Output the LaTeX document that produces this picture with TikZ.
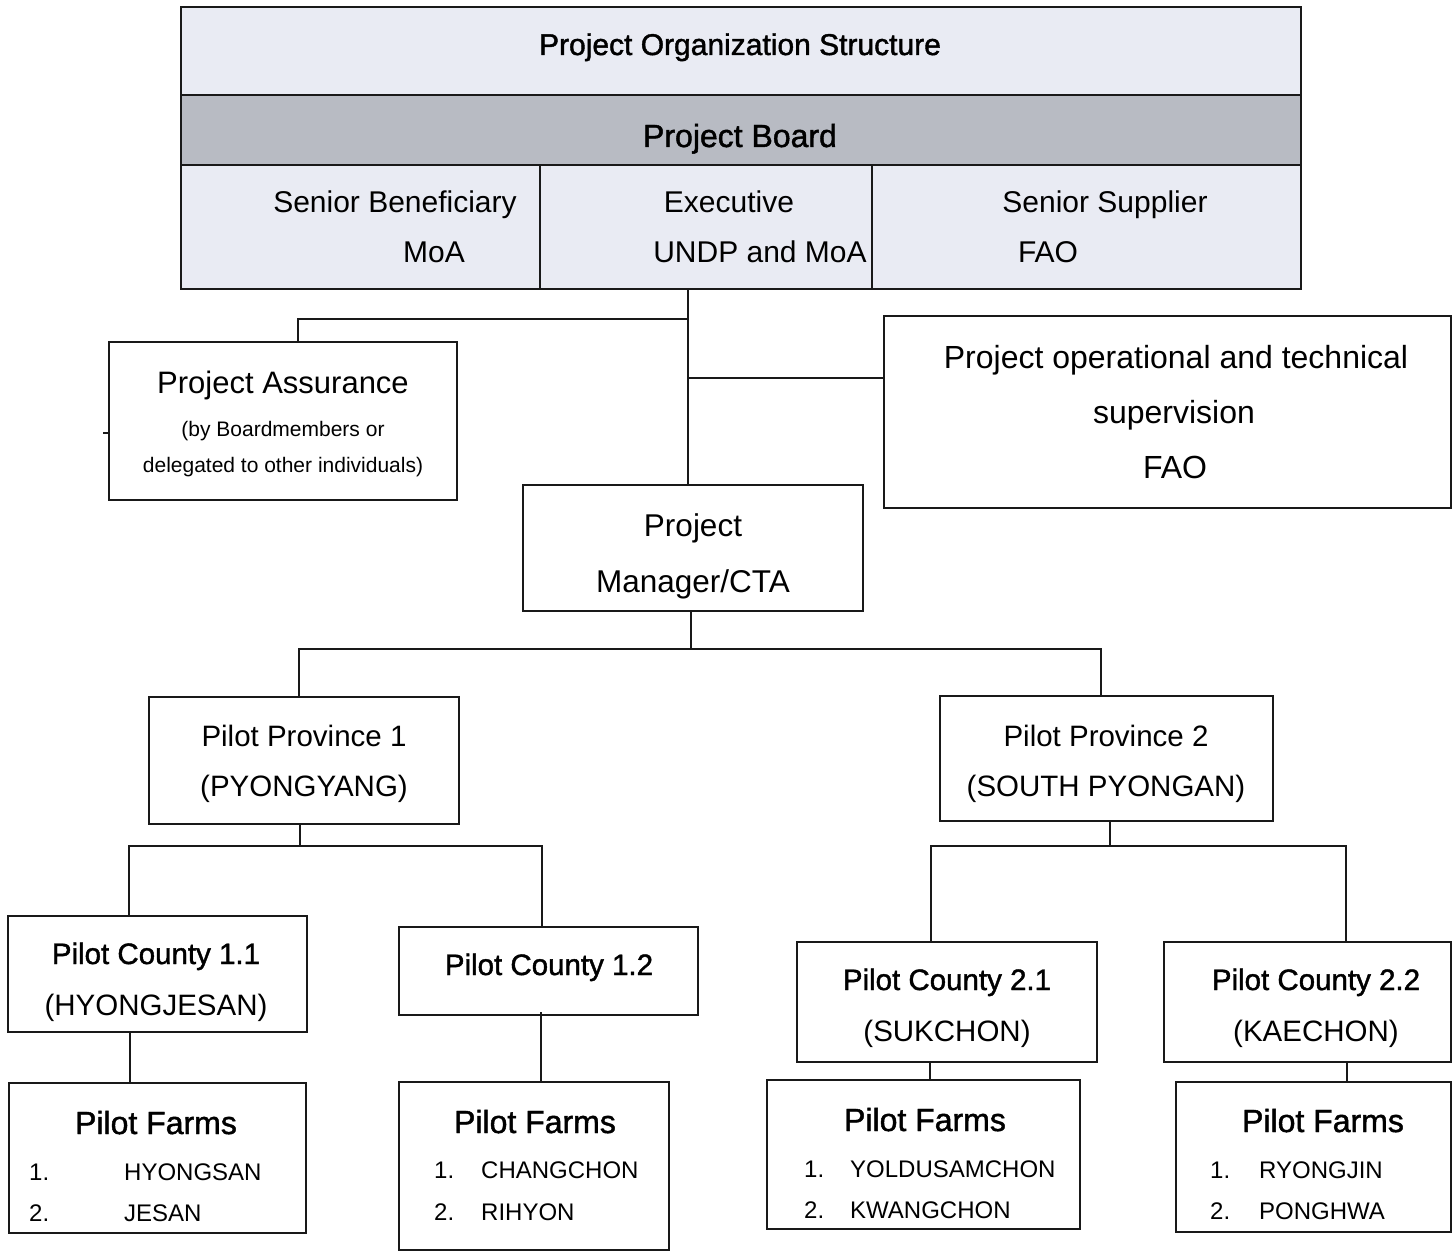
\documentclass[tikz,border=0pt]{standalone}
\usepackage{fontspec}
\setmainfont{Liberation Sans}
\newfontfamily\dkfont[FakeBold=1.4]{Liberation Sans}
\newcommand\fsz[1]{\fontsize{#1}{#1}\selectfont}
\definecolor{rowlight}{RGB}{233,235,243}
\definecolor{rowgray}{RGB}{184,187,195}
\begin{document}
\begin{tikzpicture}[x=1pt,y=-1pt,
  box/.style={draw=black!90, line width=1.8pt, inner sep=0, outer sep=0},
  conn/.style={draw=black!90, line width=1.8pt},
  tx/.style={inner sep=0, anchor=base},
  txl/.style={inner sep=0, anchor=base west}]
\useasboundingbox[fill=white] (0,0) rectangle (1452,1252);

% --- board table ---
\node[box, fill=rowlight, minimum width=1120, minimum height=88] (title) at (741,51) {};
\node[box, fill=rowgray, minimum width=1120, minimum height=70] (brow) at (741,130) {};
\node[box, fill=rowlight, minimum width=1120, minimum height=124] (members) at (741,227) {};
\coordinate (d1) at (540,0);
\coordinate (d2) at (872,0);
\draw[conn] (members.north -| d1) -- (members.south -| d1);
\draw[conn] (members.north -| d2) -- (members.south -| d2);

\node[tx] (ttitle) at (740,55) {\dkfont\fsz{30}Project Organization Structure};
\node[tx] (tboard) at (740,147) {\dkfont\fsz{32}Project Board};
\node[tx] (tsb) at (395,213) {\fsz{30}Senior Beneficiary};
\node[tx] (tsbm) at (434,263) {\fsz{30}MoA};
\node[tx] (tex) at (729,213) {\fsz{30}Executive};
\node[tx] (texm) at (760,263) {\fsz{30}UNDP and MoA};
\node[tx] (tss) at (1105,213) {\fsz{30}Senior Supplier};
\node[tx] (tssm) at (1048,263) {\fsz{30}FAO};

% --- second level ---
\node[box, minimum width=348, minimum height=158] (pa) at (283,421) {};
\node[tx] (pa1) at (283,393) {\fsz{31}Project Assurance};
\node[tx] (pa2) at (283,436) {\fsz{21}(by Boardmembers or};
\node[tx] (pa3) at (283,472) {\fsz{21}delegated to other individuals)};

\node[box, minimum width=567, minimum height=192] (fao) at (1167.5,412) {};
\node[tx] (fao1) at (1176,368) {\fsz{32}Project operational and technical};
\node[tx] (fao2) at (1174,423) {\fsz{32}supervision};
\node[tx] (fao3) at (1175,478) {\fsz{32}FAO};

\node[box, minimum width=340, minimum height=126] (pm) at (693,548) {};
\node[tx] (pm1) at (693,536) {\fsz{31.5}Project};
\node[tx] (pm2) at (693,592) {\fsz{31.5}Manager/CTA};

% --- provinces ---
\node[box, minimum width=310, minimum height=127] (p1) at (304,760.5) {};
\node[tx] (p1a) at (304,746) {\fsz{29.5}Pilot Province 1};
\node[tx] (p1b) at (304,796) {\fsz{29.5}(PYONGYANG)};

\node[box, minimum width=333, minimum height=125] (p2) at (1106.5,758.5) {};
\node[tx] (p2a) at (1106,746) {\fsz{29.5}Pilot Province 2};
\node[tx] (p2b) at (1106,796) {\fsz{29.5}(SOUTH PYONGAN)};

% --- counties ---
\node[box, minimum width=299, minimum height=116] (c11) at (157.5,974) {};
\node[tx] (c11a) at (156,964) {\dkfont\fsz{29.5}Pilot County 1.1};
\node[tx] (c11b) at (156,1015) {\fsz{29.5}(HYONGJESAN)};

\node[box, minimum width=299, minimum height=88] (c12) at (548.5,971) {};
\node[tx] (c12a) at (549,975) {\dkfont\fsz{29.5}Pilot County 1.2};

\node[box, minimum width=300, minimum height=120] (c21) at (947,1002) {};
\node[tx] (c21a) at (947,990) {\dkfont\fsz{29.5}Pilot County 2.1};
\node[tx] (c21b) at (947,1041) {\fsz{29.5}(SUKCHON)};

\node[box, minimum width=287, minimum height=120] (c22) at (1307.5,1002) {};
\node[tx] (c22a) at (1316,990) {\dkfont\fsz{29.5}Pilot County 2.2};
\node[tx] (c22b) at (1316,1041) {\fsz{29.5}(KAECHON)};

% --- farms ---
\node[box, minimum width=297, minimum height=150] (f11) at (157.5,1158) {};
\node[tx] (f11t) at (156,1134) {\dkfont\fsz{32}Pilot Farms};
\node[txl] (f11n1) at (29,1180) {\fsz{24}1.};
\node[txl] (f11a) at (124,1180) {\fsz{24}HYONGSAN};
\node[txl] (f11n2) at (29,1221) {\fsz{24}2.};
\node[txl] (f11b) at (124,1221) {\fsz{24}JESAN};

\node[box, minimum width=270, minimum height=168] (f12) at (534,1166) {};
\node[tx] (f12t) at (535,1133) {\dkfont\fsz{32}Pilot Farms};
\node[txl] (f12n1) at (434,1178) {\fsz{24}1.};
\node[txl] (f12a) at (481,1178) {\fsz{24}CHANGCHON};
\node[txl] (f12n2) at (434,1220) {\fsz{24}2.};
\node[txl] (f12b) at (481,1220) {\fsz{24}RIHYON};

\node[box, minimum width=313, minimum height=149] (f21) at (923.5,1154.5) {};
\node[tx] (f21t) at (925,1131) {\dkfont\fsz{32}Pilot Farms};
\node[txl] (f21n1) at (804,1177) {\fsz{24}1.};
\node[txl] (f21a) at (850,1177) {\fsz{24}YOLDUSAMCHON};
\node[txl] (f21n2) at (804,1218) {\fsz{24}2.};
\node[txl] (f21b) at (850,1218) {\fsz{24}KWANGCHON};

\node[box, minimum width=275, minimum height=150] (f22) at (1313.5,1157) {};
\node[tx] (f22t) at (1323,1132) {\dkfont\fsz{32}Pilot Farms};
\node[txl] (f22n1) at (1210,1178) {\fsz{24}1.};
\node[txl] (f22a) at (1259,1178) {\fsz{24}RYONGJIN};
\node[txl] (f22n2) at (1210,1219) {\fsz{24}2.};
\node[txl] (f22b) at (1259,1219) {\fsz{24}PONGHWA};

% --- connectors ---
\coordinate (j1) at (688,319);
\coordinate (j2) at (688,378);
\coordinate (pax) at (298,0);
\draw[conn] (members.south -| j1) -- (pm.north -| j1);
\draw[conn] (j1) -| (pa.north -| pax);
\draw[conn] (j2) -- (j2 -| fao.west);
\coordinate (stub) at (103,433);
\draw[conn] (stub) -- (stub -| pa.west);

\coordinate (j3) at (691,649);
\coordinate (k1) at (299,649);
\coordinate (k2) at (1101,649);
\draw[conn] (pm.south -| j3) -- (j3);
\draw[conn] (p1.north -| k1) -- (k1) -- (k2) -- (p2.north -| k2);

\coordinate (j4) at (300,846);
\coordinate (m1) at (129,846);
\coordinate (m2) at (542,846);
\draw[conn] (p1.south -| j4) -- (j4);
\draw[conn] (c11.north -| m1) -- (m1) -- (m2) -- (c12.north -| m2);

\coordinate (j5) at (1110,846);
\coordinate (n1) at (931,846);
\coordinate (n2) at (1346,846);
\draw[conn] (p2.south -| j5) -- (j5);
\draw[conn] (c21.north -| n1) -- (n1) -- (n2) -- (c22.north -| n2);

\coordinate (q1) at (130,0);
\coordinate (q2) at (541,0);
\coordinate (q3) at (930,0);
\coordinate (q4) at (1347,0);
\draw[conn] (c11.south -| q1) -- (f11.north -| q1);
\draw[conn] ([yshift=3]c12.south -| q2) -- (f12.north -| q2);
\draw[conn] (c21.south -| q3) -- (f21.north -| q3);
\draw[conn] (c22.south -| q4) -- (f22.north -| q4);
\end{tikzpicture}
\end{document}
